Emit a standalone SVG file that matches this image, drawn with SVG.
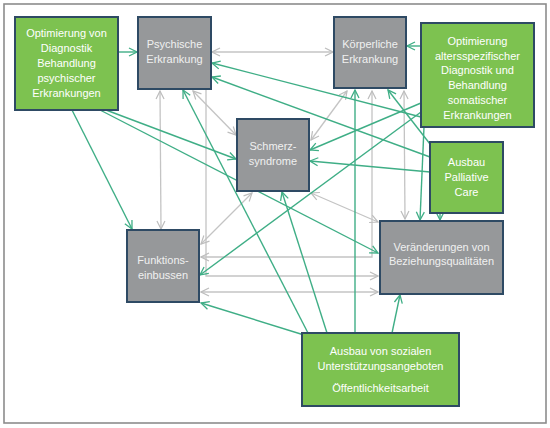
<svg xmlns="http://www.w3.org/2000/svg" width="550" height="428" viewBox="0 0 550 428">
<defs>
<marker id="ag" viewBox="0 0 10 10" refX="9" refY="5" markerWidth="10" markerHeight="10" markerUnits="userSpaceOnUse" orient="auto-start-reverse"><path d="M1,1 L9,5 L1,9" fill="none" stroke="#3fae86" stroke-width="1.3"/></marker>
<marker id="ay" viewBox="0 0 10 10" refX="9" refY="5" markerWidth="10" markerHeight="10" markerUnits="userSpaceOnUse" orient="auto-start-reverse"><path d="M1,1 L9,5 L1,9" fill="none" stroke="#bdbdbd" stroke-width="1.2"/></marker>
<style>
.g{fill:none;stroke:#3fae86;stroke-width:1.4;marker-end:url(#ag)}
.y{fill:none;stroke:#c4c4c4;stroke-width:1.3;marker-end:url(#ay)}
.b{marker-start:url(#ay)}
.gb{fill:#7dc250;stroke:#2e4a64;stroke-width:2}
.yb{fill:#96989a;stroke:#2e4a64;stroke-width:2}
text{font-family:"Liberation Sans",Arial,sans-serif;font-size:11px;fill:#ffffff;text-anchor:middle}
.t2{fill:#f0f0f0}
</style>
</defs>
<rect x="4" y="4" width="542" height="419" fill="#ffffff" stroke="#8c8c8c" stroke-width="1.6"/>
<g id="connectors">
<line class="y b" x1="212" y1="52" x2="333" y2="52"/>
<line class="y b" x1="160" y1="91" x2="161" y2="229"/>
<line class="y b" x1="193" y1="91" x2="236" y2="135"/>
<path class="y" d="M206,90 V276 H378"/>
<path class="y b" d="M372,91 V257 H201"/>
<line class="y b" x1="201" y1="292" x2="378" y2="292"/>
<line class="y b" x1="252" y1="193" x2="201" y2="244"/>
<line class="y b" x1="347" y1="91" x2="311" y2="140"/>
<line class="y b" x1="311" y1="193" x2="378" y2="222"/>
<line class="y b" x1="404" y1="91" x2="405" y2="219"/>
<line class="g" x1="118" y1="52" x2="137" y2="52"/>
<line class="g" x1="72" y1="110" x2="132" y2="229"/>
<line class="g" x1="106" y1="110" x2="236" y2="159"/>
<line class="g" x1="100" y1="110" x2="378" y2="253"/>
<line class="g" x1="421" y1="46" x2="407" y2="46"/>
<line class="g" x1="421" y1="103" x2="310" y2="150"/>
<line class="g" x1="421" y1="117" x2="212" y2="63"/>
<line class="g" x1="421" y1="112" x2="200" y2="275"/>
<line class="g" x1="424" y1="127" x2="420" y2="220"/>
<line class="g" x1="430" y1="157" x2="212" y2="77"/>
<line class="g" x1="430" y1="144" x2="388" y2="90"/>
<line class="g" x1="430" y1="172" x2="310" y2="161"/>
<line class="g" x1="440" y1="213" x2="440" y2="220"/>
<line class="g" x1="304" y1="335" x2="201" y2="303"/>
<line class="g" x1="308" y1="333" x2="183" y2="90"/>
<line class="g" x1="327" y1="333" x2="282" y2="192"/>
<line class="g" x1="355" y1="333" x2="355" y2="90"/>
<line class="g" x1="392" y1="333" x2="400" y2="295"/>
</g>
<g id="opt-psych"><rect class="gb" x="15" y="17" width="103" height="93"/>
<text x="66.5" y="37">Optimierung von</text><text x="66.5" y="52">Diagnostik</text><text x="66.5" y="67">Behandlung</text><text x="66.5" y="82">psychischer</text><text x="66.5" y="97">Erkrankungen</text></g>
<g id="psychische"><rect class="yb" x="138" y="17" width="73" height="72"/>
<text class="t2" x="174.5" y="48">Psychische</text><text class="t2" x="174.5" y="63">Erkrankung</text></g>
<g id="koerperliche"><rect class="yb" x="334" y="17" width="72" height="71"/>
<text class="t2" x="370" y="48">Körperliche</text><text class="t2" x="370" y="63">Erkrankung</text></g>
<g id="opt-alter"><rect class="gb" x="421" y="23" width="113" height="104"/>
<text x="477.5" y="45">Optimierung</text><text x="477.5" y="60">altersspezifischer</text><text x="477.5" y="74">Diagnostik und</text><text x="477.5" y="89">Behandlung</text><text x="477.5" y="104">somatischer</text><text x="477.5" y="119">Erkrankungen</text></g>
<g id="schmerz"><rect class="yb" x="237" y="119" width="72" height="72"/>
<text class="t2" x="273" y="150">Schmerz-</text><text class="t2" x="273" y="165">syndrome</text></g>
<g id="palliative"><rect class="gb" x="430" y="142" width="73" height="71"/>
<text x="466.5" y="166">Ausbau</text><text x="466.5" y="181">Palliative</text><text x="466.5" y="196">Care</text></g>
<g id="funktion"><rect class="yb" x="127" y="230" width="72" height="72"/>
<text class="t2" x="163" y="264">Funktions-</text><text class="t2" x="163" y="279">einbussen</text></g>
<g id="veraenderungen"><rect class="yb" x="380" y="221" width="123" height="73"/>
<text class="t2" x="441.5" y="251">Veränderungen von</text><text class="t2" x="441.5" y="265">Beziehungsqualitäten</text></g>
<g id="ausbau-sozial"><rect class="gb" x="302" y="333" width="157" height="73"/>
<text x="380.5" y="355">Ausbau von sozialen</text><text x="380.5" y="370">Unterstützungsangeboten</text><text x="380.5" y="392">Öffentlichkeitsarbeit</text></g>
</svg>
